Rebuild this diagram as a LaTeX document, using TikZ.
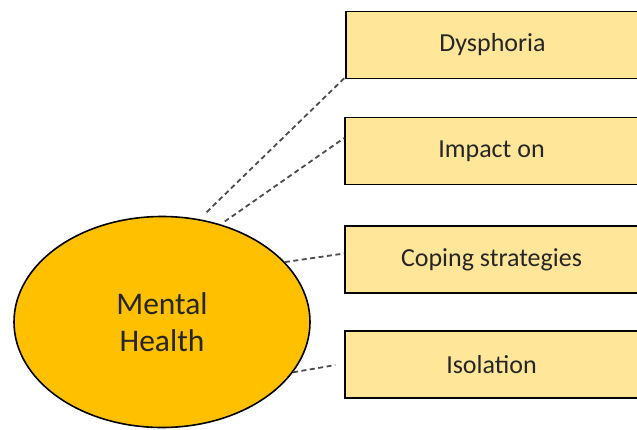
\documentclass[tikz,border=0pt]{standalone}
\usepackage{fontspec}
\setmainfont{Carlito}
\usetikzlibrary{shapes.geometric}
\definecolor{gold}{HTML}{FFC000}
\definecolor{lightgold}{HTML}{FFE699}
\tikzset{
  topic/.style={draw=black, line width=1.6pt, fill=lightgold, minimum width=293pt,
    minimum height=67pt, inner sep=0pt, text=black!85, font=\fontsize{26}{31}\selectfont},
  link/.style={draw=black!70, line width=1.8pt, dash pattern=on 5pt off 3.5pt}
}
\begin{document}
\begin{tikzpicture}[x=1pt,y=-1pt]
            \useasboundingbox (0,0) rectangle (637,429);
            \node[ellipse, draw=black, line width=1.6pt, fill=gold, minimum width=296pt,
              minimum height=211pt, inner sep=0pt, align=center, text=black!85,
              font=\fontsize{31.5}{37}\selectfont] (health) at (162,322) {Mental\\Health};
            \node[topic] (dysphoria) at (492.5,45) {Dysphoria};
            \node[topic] (impact) at (491.5,151) {Impact on};
            \node[topic] (coping) at (491.5,259.5) {Coping strategies};
            \node[topic] (isolation) at (491.5,364.5) {Isolation};
            \draw[link, shorten <=10pt] (health.70) -- ([yshift=2pt]dysphoria.south west);
            \draw[link, shorten <=5pt] (health.59) -- ([yshift=13pt]impact.west);
            \draw[link] (health.26) -- ([yshift=6pt]coping.west);
            \draw[link, shorten >=9pt] (health.-21) -- ([yshift=1pt]isolation.west);
          \end{tikzpicture}
\end{document}
